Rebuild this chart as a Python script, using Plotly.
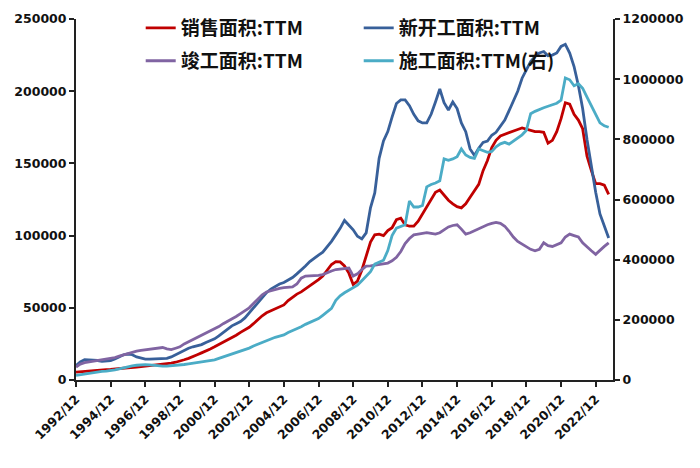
import pandas as pd
import plotly.graph_objects as go

# quarterly observation dates, 1992/12 .. 2023/09
dates = pd.date_range("1992-12-01", "2023-09-01", freq="3MS")

new_start = [
    10000,
    12500, 14000, 14000, 13500,
    13500, 13000, 13000, 13500,
    14500, 16000, 17500, 18000,
    17500, 16000, 15000, 14500,
    14500, 14500, 14500, 14500,
    15000, 16000, 17500, 19500,
    21000, 22000, 23000, 23500,
    24500, 26000, 27000, 28500,
    30500, 33000, 35500, 37500,
    39000, 40500, 43000, 46500,
    50000, 53500, 57000, 60500,
    63000, 65000, 66500, 67500,
    69000, 71000, 73500, 76000,
    79000, 82000, 84500, 86500,
    88500, 92000, 96000, 100500,
    105000, 110500, 107500, 104000,
    99500, 97700, 101900, 119200,
    129500, 153500, 165500, 172000,
    182000, 191500, 194000, 194000,
    190000, 184000, 179500, 178000,
    178000, 184000, 192500, 201500,
    192000, 187000, 192500, 188000,
    178000, 172000, 160000, 155500,
    160500, 164500, 165500, 169500,
    171500, 175500, 180000, 186500,
    193000, 200000, 209000, 215000,
    220500, 224000, 226500, 227500,
    224500, 225000, 226500, 231000,
    232500, 226400, 217100, 204000,
    188000, 166500, 148000, 130000,
    115000, 106000, 98400,
]

sales = [
    5500,
    5800, 6100, 6400, 6700,
    6900, 7100, 7200, 7300,
    7500, 7800, 8100, 8400,
    8700, 9000, 9300, 9600,
    9900, 10200, 10500, 10800,
    11200, 11700, 12300, 13000,
    14000, 15000, 16000, 17500,
    18800, 20000, 21500, 23000,
    24500, 26000, 27500, 29000,
    31000, 33000, 34500, 36500,
    39000, 42000, 44500, 46500,
    48000, 49500, 50500, 52000,
    55000, 57500, 59500, 61000,
    63000, 65000, 67500, 69500,
    72000, 76000, 80000, 82000,
    81800, 79000, 74000, 66100,
    68500, 76000, 86000, 95500,
    100500, 101000, 100000, 103500,
    105500, 111000, 112000, 107500,
    106500, 106500, 110000, 115000,
    120500, 125500, 130000, 131500,
    128000, 124500, 122000, 120000,
    119200, 122000, 126500, 131500,
    135500, 145000, 152000, 161000,
    166000, 169000, 170000, 171000,
    172000, 173500, 174500, 173500,
    172500, 172000, 172000, 171500,
    164000, 166000, 172000, 181000,
    192000, 191000, 184000, 180000,
    174000, 155000, 145000, 136000,
    136000, 135000, 128500,
]

completed = [
    9000,
    11000, 12000, 12500, 13000,
    13500, 14000, 14500, 15000,
    15500, 16500, 17500, 18500,
    19000, 20000, 20500, 21000,
    21500, 22000, 22500, 22500,
    21500, 21000, 22000, 23000,
    25000, 26500, 28000, 29500,
    31000, 32500, 33500, 35000,
    37000, 39000, 40500, 42000,
    44000, 46000, 48000, 50000,
    53000, 56000, 59000, 61000,
    62000, 62500, 63500, 64000,
    64000, 64500, 66500, 70500,
    72000, 72000, 72000, 72500,
    73000, 74500, 75500, 76500,
    77000, 77500, 77500, 72000,
    73500, 76500, 78800, 79000,
    79500, 80000, 80500, 81000,
    82500, 85000, 89000, 94500,
    98000, 100500, 101000, 101500,
    102000, 101500, 101000, 102000,
    104000, 106000, 107000, 107500,
    104500, 101000, 102000, 103500,
    104500, 106500, 107500, 108500,
    109200, 108500, 106500, 103000,
    99000, 96000, 94000, 92000,
    90500, 89500, 90500, 95000,
    93000, 92500, 93500, 95000,
    99000, 101000, 100000, 99000,
    95000, 92000, 89500, 87000,
    90000, 92500, 95000,
]

under_construction = [
    15500,
    18000, 20500, 23000, 25000,
    27000, 28500, 29500, 31000,
    34000, 37000, 41000, 44500,
    47000, 49000, 50500, 51000,
    50000, 48000, 46500, 46000,
    46000, 47000, 48000, 49500,
    51500, 53500, 55500, 58000,
    60000, 62000, 64000, 67000,
    72000, 77000, 81000, 85000,
    91000, 96000, 101000, 106000,
    113000, 119000, 124000, 129000,
    136000, 142000, 146000, 150000,
    158000, 164000, 170000, 177000,
    185000, 192000, 197000, 204000,
    215000, 225000, 238000, 265000,
    280000, 290000, 298000, 305000,
    315000, 330000, 345000, 360000,
    385000, 392000, 398000, 430000,
    480000, 505000, 510000, 516000,
    595000, 575000, 575000, 580000,
    642000, 650000, 655000, 662000,
    735000, 730000, 735000, 742000,
    768000, 748000, 740000, 737000,
    768000, 762000, 757000, 760000,
    775000, 785000, 790000, 784000,
    795000, 805000, 815000, 830000,
    885000, 893000, 900000, 905000,
    910000, 915000, 920000, 930000,
    1004000, 998000, 978000, 985000,
    970000, 940000, 910000, 880000,
    855000, 845000, 840000,
]

tick_years = list(range(1992, 2023, 2))
tick_vals = [f"{y}-12-01" for y in tick_years]
tick_text = [f"{y}/12" for y in tick_years]

names = ["销售面积:TTM", "新开工面积:TTM", "竣工面积:TTM", "施工面积:TTM(右)"]
colors = ["#C00000", "#38609A", "#8064A2", "#4BACC6"]

fig = go.Figure()
fig.add_trace(go.Scatter(x=dates, y=sales, name=names[0], mode="lines",
                         line=dict(color=colors[0], width=2.8), legend="legend"))
fig.add_trace(go.Scatter(x=dates, y=new_start, name=names[1], mode="lines",
                         line=dict(color=colors[1], width=2.8), legend="legend"))
fig.add_trace(go.Scatter(x=dates, y=completed, name=names[2], mode="lines",
                         line=dict(color=colors[2], width=2.8), legend="legend2"))
fig.add_trace(go.Scatter(x=dates, y=under_construction, name=names[3], mode="lines",
                         line=dict(color=colors[3], width=2.8), yaxis="y2", legend="legend2"))

tick_font = dict(family="DejaVu Sans", size=12.5, color="#111", weight="bold")
leg_font = dict(family="Noto Sans CJK SC", size=19, color="#111", weight="bold")

axis_common = dict(showgrid=False, zeroline=False, showline=True, linecolor="#222", linewidth=2,
                   ticks="outside", ticklen=5, tickwidth=1.5, tickcolor="#222",
                   tickfont=tick_font, automargin=False)

fig.update_layout(
    template="none",
    width=700, height=468,
    margin=dict(l=76, r=87, t=19, b=87.5, autoexpand=False),
    paper_bgcolor="white", plot_bgcolor="white",
    showlegend=True,
    xaxis=dict(type="date", range=["1992-12-01", "2023-12-01"],
               tickvals=tick_vals, ticktext=tick_text, tickangle=-45, **axis_common),
    yaxis=dict(range=[0, 250000], dtick=50000, tickformat="d", **axis_common),
    yaxis2=dict(range=[0, 1200000], dtick=200000, tickformat="d", overlaying="y", side="right",
                **axis_common),
    legend=dict(orientation="h", x=0.1205, y=0.975, xanchor="left", yanchor="middle",
                entrywidth=173, entrywidthmode="pixels", bgcolor="rgba(0,0,0,0)",
                borderwidth=0, font=leg_font),
    legend2=dict(orientation="h", x=0.1205, y=0.884, xanchor="left", yanchor="middle",
                 entrywidth=173, entrywidthmode="pixels", bgcolor="rgba(0,0,0,0)",
                 borderwidth=0, font=leg_font),
)

fig.write_html("out.html", config={"displayModeBar": False},
               post_script="document.body.style.margin='0px';")
